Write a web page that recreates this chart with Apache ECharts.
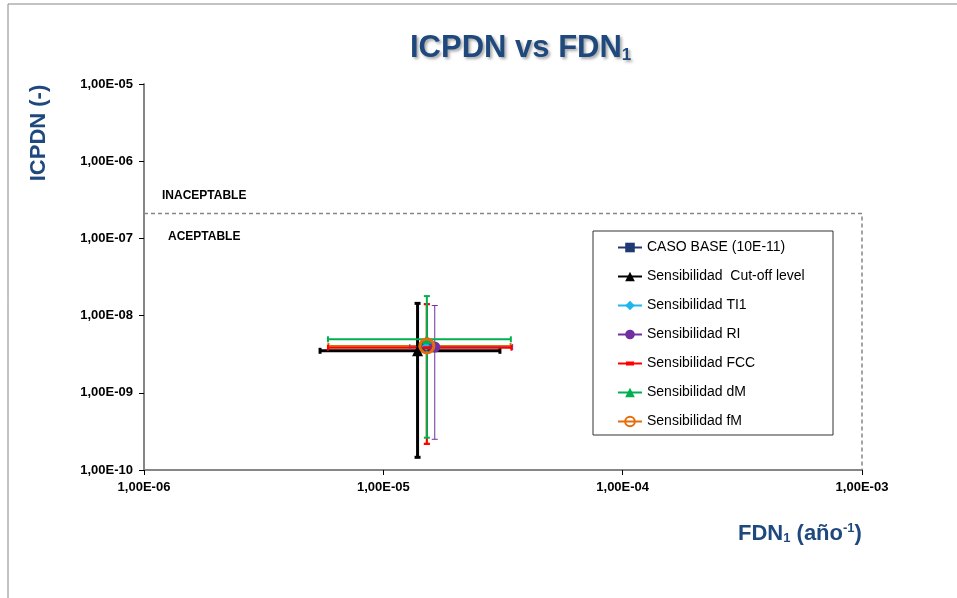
<!DOCTYPE html>
<html>
<head>
<meta charset="utf-8">
<script src="https://cdn.jsdelivr.net/npm/echarts@6/dist/echarts.min.js"></script>
<style>
  html, body { margin: 0; padding: 0; background: #fff; }
  #main { width: 957px; height: 598px; }
</style>
</head>
<body>
<div id="main"></div>
<script>
// series
const names = ['CASO BASE (10E-11)', 'Sensibilidad  Cut-off level', 'Sensibilidad TI1',
  'Sensibilidad RI', 'Sensibilidad FCC', 'Sensibilidad dM', 'Sensibilidad fM'];
const fdn = [1.52e-5, 1.39e-5, 1.51e-5, 1.64e-5, 1.52e-5, 1.52e-5, 1.52e-5];
const icpdn = [4.1e-9, 3.5e-9, 4.0e-9, 3.92e-9, 3.84e-9, 4.93e-9, 4.04e-9];
// error bars (null = none)
const fdnLow = [null, 5.44e-6, null, 1.29e-5, 5.87e-6, 5.87e-6, 5.9e-6];
const fdnHigh = [null, 3.07e-5, null, 3.47e-5, 3.43e-5, 3.41e-5, 3.4e-5];
const icpdnLow = [null, 1.46e-10, null, 2.5e-10, 2.17e-10, 2.62e-10, 2.2e-10];
const icpdnHigh = [null, 1.44e-8, null, 1.35e-8, 1.41e-8, 1.79e-8, 1.4e-8];
// limit between acceptable / unacceptable
const limitY = 2.1e-7;
const xTicks = [1e-6, 1e-5, 1e-4, 1e-3];
const yTicks = [1e-10, 1e-9, 1e-8, 1e-7, 1e-6, 1e-5];

const colors = ['#1F3A73', '#000000', '#1FB6F0', '#7030A0', '#FF0000', '#00B050', '#E46C0A'];
const symbols = ['rect', 'triangle', 'diamond', 'circle', 'rect', 'triangle', 'circle'];
const sizes = [11, 11, 9, 11, [8, 3], 10, 14];
const barWidths = [2, 3, 2, 1, 2, 2, 2];
// draw order of the error bars (orange under green/red)
const barOrder = [6, 1, 3, 4, 5];
// FCC legend icon: line with a short dash (tiny corner dots keep the 24x12 box)
const fccIcon = 'path://M0 0h0.1v0.1h-0.1z M0 5h24v2h-24z M8 4h8v4h-8z M23.9 11.9h0.1v0.1h-0.1z';

const fmt = v => v.toExponential(2).replace('.', ',')
  .replace(/e([+-])(\d+)/, (m, s, d) => 'E' + s + d.padStart(2, '0'));

const errorSeries = barOrder.map(i => ({
  type: 'custom',
  name: 'err' + i,
  clip: false,
  silent: true,
  z: 2,
  data: [[fdn[i], icpdn[i], fdnLow[i], fdnHigh[i], icpdnLow[i], icpdnHigh[i]]],
  encode: { x: 0, y: 1 },
  renderItem: (params, api) => {
    const y = api.value(1), x = api.value(0);
    const l = api.coord([api.value(2), y]);
    const r = api.coord([api.value(3), y]);
    const b = api.coord([x, api.value(4)]);
    const t = api.coord([x, api.value(5)]);
    const st = { stroke: colors[i], lineWidth: barWidths[i] };
    const c = 3;
    const line = (x1, y1, x2, y2) => ({ type: 'line', shape: { x1, y1, x2, y2 }, style: st });
    return {
      type: 'group',
      children: [
        line(l[0], l[1], r[0], r[1]),
        line(l[0], l[1] - c, l[0], l[1] + c),
        line(r[0], r[1] - c, r[0], r[1] + c),
        line(b[0], b[1], t[0], t[1]),
        line(b[0] - c, b[1], b[0] + c, b[1]),
        line(t[0] - c, t[1], t[0] + c, t[1])
      ]
    };
  }
}));

const markerSeries = names.map((n, i) => {
  const ring = i === 6;
  return {
    type: 'line',
    name: n,
    z: 5,
    data: [[fdn[i], icpdn[i]]],
    symbol: symbols[i],
    symbolSize: sizes[i],
    lineStyle: { color: colors[i], width: 2 },
    itemStyle: ring
      ? { color: 'rgba(255,255,255,0)', borderColor: colors[i], borderWidth: 3 }
      : { color: colors[i], borderWidth: 0 }
  };
});

const chart = echarts.init(document.getElementById('main'));
const axisFont = { fontFamily: 'Liberation Sans', fontWeight: 'bold', fontSize: 13, color: '#000' };
chart.setOption({
  animation: false,
  title: [
    {
      text: 'ICPDN vs FDN{sub|1}',
      left: 405, top: 28,
      textStyle: {
        fontFamily: 'Liberation Sans', fontWeight: 'bold', fontSize: 31, color: '#1F497D',
        textShadowColor: 'rgba(0,0,0,0.35)', textShadowBlur: 3, textShadowOffsetX: 2, textShadowOffsetY: 2,
        rich: {
          sub: { fontFamily: 'Liberation Sans', fontWeight: 'bold', fontSize: 17, color: '#1F497D',
            verticalAlign: 'bottom', padding: [14, 0, 0, 0] }
        }
      }
    },
    {
      text: 'FDN{sub|1} (año{sup|-1})',
      left: 733, top: 517,
      textStyle: {
        fontFamily: 'Liberation Sans', fontWeight: 'bold', fontSize: 22, color: '#1F497D',
        rich: {
          sub: { fontFamily: 'Liberation Sans', fontWeight: 'bold', fontSize: 13, color: '#1F497D',
            verticalAlign: 'bottom', padding: [10, 0, 0, 0] },
          sup: { fontFamily: 'Liberation Sans', fontWeight: 'bold', fontSize: 13, color: '#1F497D',
            verticalAlign: 'top', padding: [0, 0, 10, 0] }
        }
      }
    }
  ],
  grid: { left: 144, right: 95, top: 84, bottom: 128 },
  legend: {
    data: names.map((n, i) => (i === 4 ? { name: n, icon: fccIcon } : n)),
    orient: 'vertical',
    left: 612, top: 234,
    itemWidth: 24, itemHeight: 12, itemGap: 12,
    textStyle: { fontFamily: 'Liberation Sans', fontSize: 14, color: '#000', lineHeight: 17 }
  },
  xAxis: {
    type: 'log', logBase: 10,
    min: xTicks[0], max: xTicks[xTicks.length - 1],
    axisLine: { lineStyle: { color: '#868686', width: 2 } },
    axisTick: { show: true, length: 5, lineStyle: { color: '#000', width: 1 } },
    minorTick: { show: false },
    splitLine: { show: false },
    axisLabel: Object.assign({ margin: 11, formatter: fmt, showMaxLabel: true }, axisFont)
  },
  yAxis: {
    type: 'log', logBase: 10,
    min: yTicks[0], max: yTicks[yTicks.length - 1],
    axisLine: { show: true, lineStyle: { color: '#868686', width: 2 } },
    axisTick: { show: true, length: 5, lineStyle: { color: '#000', width: 1 } },
    minorTick: { show: false },
    splitLine: { show: false },
    axisLabel: Object.assign({ margin: 11, formatter: fmt }, axisFont)
  },
  graphic: [
    { type: 'rect', silent: true, shape: { x: 8, y: 4, width: 970, height: 620 },
      style: { fill: 'none', stroke: '#868686', lineWidth: 1 } },
    { type: 'rect', silent: true, shape: { x: 593, y: 231, width: 240, height: 204 },
      style: { fill: '#fff', stroke: '#333', lineWidth: 1 }, z: 0 },
    { type: 'text', silent: true, x: 39, y: 133, rotation: Math.PI / 2,
      style: { text: 'ICPDN (-)', fill: '#1F497D', font: 'bold 22px "Liberation Sans"',
        align: 'center', verticalAlign: 'middle' } },
    { type: 'text', silent: true, x: 162, y: 196,
      style: { text: 'INACEPTABLE', fill: '#000', font: 'bold 12px "Liberation Sans"',
        align: 'left', verticalAlign: 'middle' } },
    { type: 'text', silent: true, x: 168, y: 237,
      style: { text: 'ACEPTABLE', fill: '#000', font: 'bold 12px "Liberation Sans"',
        align: 'left', verticalAlign: 'middle' } }
  ],
  series: [
    {
      type: 'line', name: 'limit', silent: true, z: 1,
      data: [[xTicks[0], limitY], [xTicks[xTicks.length - 1], limitY], [xTicks[xTicks.length - 1], yTicks[0]]],
      symbol: 'none',
      lineStyle: { color: '#868686', width: 1.5, type: [4, 3] }
    }
  ].concat(errorSeries, markerSeries)
});
</script>
</body>
</html>
